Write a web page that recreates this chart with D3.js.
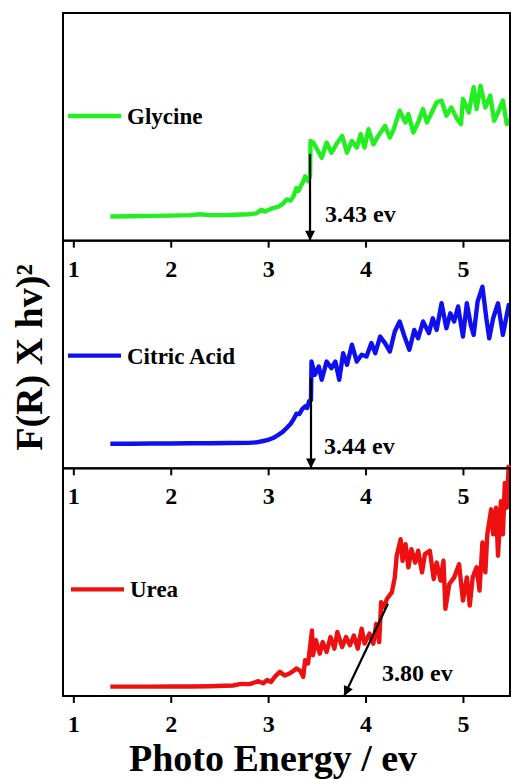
<!DOCTYPE html>
<html>
<head>
<meta charset="utf-8">
<script src="https://cdn.jsdelivr.net/npm/d3@7"></script>
<style>
	body { margin: 0; background: #fff; }
	text { font-family: "Liberation Serif", "Times New Roman", serif; font-weight: bold; }
</style>
</head>
<body>
<div id="chart"></div>
<script>
// energy (ev) vs F(R)*hv squared, arbitrary units (0-100 of panel)
const glycine = [
	[1.38,10.6],[1.6,10.7],[1.8,10.9],[2.0,11.0],[2.2,11.2],[2.3,11.6],[2.4,11.2],[2.6,11.3],
	[2.8,11.6],[2.88,12.0],[2.93,13.6],[2.97,12.8],[3.05,14.3],[3.1,14.8],[3.15,16.2],[3.19,18.1],
	[3.23,17.6],[3.26,19.5],[3.29,23.1],[3.31,21.8],[3.33,23.6],[3.36,26.0],[3.38,28.3],[3.41,26.1],
	[3.43,28.3],[3.435,43.8],[3.464,43.1],[3.55,36.4],[3.60,43.1],[3.65,38.6],[3.70,42.3],[3.76,46.0],
	[3.81,38.6],[3.86,43.8],[3.91,40.9],[3.95,46.8],[3.99,40.9],[4.03,49.0],[4.08,42.3],[4.13,46.0],
	[4.20,50.4],[4.25,45.3],[4.29,49.0],[4.35,57.1],[4.41,51.9],[4.44,55.6],[4.49,47.5],[4.54,51.9],
	[4.59,57.8],[4.63,51.9],[4.68,56.3],[4.73,60.8],[4.78,61.5],[4.83,54.9],[4.88,58.5],[4.94,53.4],
	[4.98,51.2],[5.00,62.3],[5.06,56.3],[5.11,67.4],[5.14,57.8],[5.18,68.1],[5.23,58.5],[5.28,63.7],
	[5.32,52.7],[5.36,56.3],[5.41,61.5],[5.45,51.2],[5.48,53.4]
];
const citric = [
	[1.38,10.8],[1.6,10.8],[1.8,10.9],[2.0,10.9],[2.2,11.0],[2.4,11.0],[2.6,11.1],[2.8,11.2],
	[2.88,11.4],[2.95,12.0],[3.0,12.5],[3.05,13.3],[3.1,14.6],[3.15,16.0],[3.19,17.7],[3.23,19.5],
	[3.26,21.5],[3.29,24.0],[3.32,23.8],[3.35,26.0],[3.38,27.2],[3.40,26.5],[3.42,29.4],[3.44,30.0],
	[3.445,46.9],[3.48,41.1],[3.52,44.7],[3.55,38.9],[3.60,46.9],[3.65,44.0],[3.69,46.9],[3.73,38.9],
	[3.77,50.6],[3.81,45.5],[3.86,54.3],[3.91,46.9],[3.96,49.9],[4.01,49.1],[4.06,55.0],[4.10,50.6],
	[4.15,57.9],[4.20,55.0],[4.25,51.3],[4.30,60.1],[4.35,64.5],[4.40,57.9],[4.45,52.1],[4.50,60.8],
	[4.54,57.1],[4.59,64.5],[4.65,59.4],[4.69,65.9],[4.73,60.8],[4.78,72.5],[4.83,61.5],[4.87,68.1],
	[4.91,64.5],[4.95,71.1],[5.00,57.9],[5.04,72.5],[5.08,63.0],[5.11,58.6],[5.15,73.2],[5.20,79.8],
	[5.24,65.9],[5.27,57.1],[5.31,65.9],[5.36,72.5],[5.41,58.6],[5.47,71.8],[5.49,67.4]
];
const urea = [
	[1.38,4.1],[1.6,4.1],[1.8,4.1],[2.0,4.2],[2.2,4.2],[2.4,4.3],[2.55,4.5],[2.64,4.6],[2.72,5.3],
	[2.81,5.2],[2.9,6.5],[2.95,5.6],[2.99,7.0],[3.03,6.2],[3.07,8.5],[3.12,10.6],[3.17,9.0],[3.22,9.9],
	[3.26,11.0],[3.29,12.1],[3.33,11.0],[3.36,8.4],[3.38,15.7],[3.41,14.3],[3.45,28.8],[3.46,17.9],
	[3.49,24.5],[3.53,18.6],[3.56,23.7],[3.60,19.3],[3.64,25.9],[3.68,20.8],[3.71,28.1],[3.76,21.5],
	[3.80,25.9],[3.84,22.3],[3.88,26.6],[3.92,20.8],[3.96,29.6],[3.99,23.0],[4.04,27.4],[4.08,23.0],
	[4.11,31.7],[4.14,23.7],[4.16,41.2],[4.19,39.0],[4.22,42.7],[4.27,45.5],[4.30,52.0],[4.32,61.6],
	[4.36,68.9],[4.38,59.4],[4.41,66.7],[4.44,56.5],[4.47,64.5],[4.51,58.6],[4.54,63.8],[4.58,54.3],
	[4.61,62.3],[4.66,63.8],[4.70,51.4],[4.73,58.6],[4.77,50.7],[4.80,59.4],[4.82,38.3],[4.86,49.2],
	[4.91,52.1],[4.96,57.9],[5.00,41.9],[5.04,52.1],[5.07,39.7],[5.10,52.1],[5.14,56.5],[5.17,46.3],
	[5.20,67.4],[5.23,54.3],[5.25,71.0],[5.29,82.0],[5.31,71.0],[5.34,82.7],[5.36,61.6],[5.39,85.6],
	[5.41,71.0],[5.43,93.6],[5.45,82.7],[5.47,101.5]
];

const seriesData = [glycine, citric, urea];
const seriesNames = ["Glycine", "Citric Acid", "Urea"];
const seriesColors = ["#22ee22", "#1010ee", "#ee1010"];
const gapLabels = ["3.43 ev", "3.44 ev", "3.80 ev"];
const arrowStart = [[3.43, 38.1], [3.44, 39.5], [4.23, 40.5]];
const arrowEnd = [[3.43, 0], [3.44, 0], [3.78, 0]];
const xTicks = [1, 2, 3, 4, 5];

const W = 511, H = 779;
const mLeft = 63, mRight = 510, mTop = 13, mBottom = 696;
const panelH = (mBottom - mTop) / 3;
const serif = "'Liberation Serif', 'Times New Roman', serif";

const svg = d3.select("#chart").append("svg")
	.attr("width", W)
	.attr("height", H);

svg.append("defs").append("marker")
	.attr("id", "head")
	.attr("viewBox", "0 0 10 10")
	.attr("refX", 10)
	.attr("refY", 5)
	.attr("markerWidth", 6)
	.attr("markerHeight", 4.5)
	.attr("markerUnits", "strokeWidth")
	.attr("orient", "auto")
	.append("path")
	.attr("d", "M0,0L10,5L0,10Z")
	.attr("fill", "#000");

const x = d3.scaleLinear().domain([0.894, 5.483]).range([mLeft, mRight]);

// legend + label positions inside each panel (pixels from panel top)
const legendY = [103, 115, 121];
const legendX = [68, 68, 71];
const labelPos = [[325, 209], [324, 213], [382, 213]];

seriesData.forEach((data, i) => {
	const py0 = mTop + i * panelH;
	const y = d3.scaleLinear().domain([0, 100]).range([py0 + panelH, py0]);
	const g = svg.append("g");

	g.append("path")
		.datum(data)
		.attr("fill", "none")
		.attr("stroke", seriesColors[i])
		.attr("stroke-width", 4.4)
		.attr("stroke-linejoin", "round")
		.attr("d", d3.line().x((d) => x(d[0])).y((d) => y(d[1])));

	// frame
	g.append("rect")
		.attr("x", mLeft)
		.attr("y", py0)
		.attr("width", mRight - mLeft)
		.attr("height", panelH)
		.attr("fill", "none")
		.attr("stroke", "#000")
		.attr("stroke-width", 2);

	const axis = g.append("g")
		.attr("transform", `translate(0,${py0 + panelH})`)
		.call(d3.axisBottom(x).tickValues(xTicks).tickSize(7).tickPadding(12).tickFormat(d3.format("d")));
	axis.select(".domain").remove();
	axis.selectAll("line").attr("stroke-width", 2);
	axis.selectAll("text")
		.attr("font-family", serif)
		.style("font-size", "24px")
		.attr("fill", "#000");

	// legend
	g.append("line")
		.attr("x1", legendX[i])
		.attr("x2", legendX[i] + 53)
		.attr("y1", py0 + legendY[i])
		.attr("y2", py0 + legendY[i])
		.attr("stroke", seriesColors[i])
		.attr("stroke-width", 4.4);
	g.append("text")
		.attr("x", legendX[i] + 59)
		.attr("y", py0 + legendY[i] + 8)
		.style("font-size", "23px")
		.text(seriesNames[i]);

	// band gap arrow
	g.append("line")
		.attr("x1", x(arrowStart[i][0]))
		.attr("y1", y(arrowStart[i][1]))
		.attr("x2", x(arrowEnd[i][0]))
		.attr("y2", y(arrowEnd[i][1]))
		.attr("stroke", "#000")
		.attr("stroke-width", 2.2)
		.attr("marker-end", "url(#head)");
	g.append("text")
		.attr("x", labelPos[i][0])
		.attr("y", py0 + labelPos[i][1])
		.style("font-size", "24px")
		.text(gapLabels[i]);
});

svg.append("text")
	.attr("transform", `translate(42,${(mTop + mBottom) / 2 + 3}) rotate(-90)`)
	.attr("text-anchor", "middle")
	.style("font-size", "38px")
	.text("F(R) X hv)²");

svg.append("text")
	.attr("x", 273)
	.attr("y", 771)
	.attr("text-anchor", "middle")
	.style("font-size", "38px")
	.text("Photo Energy / ev");
</script>
</body>
</html>
